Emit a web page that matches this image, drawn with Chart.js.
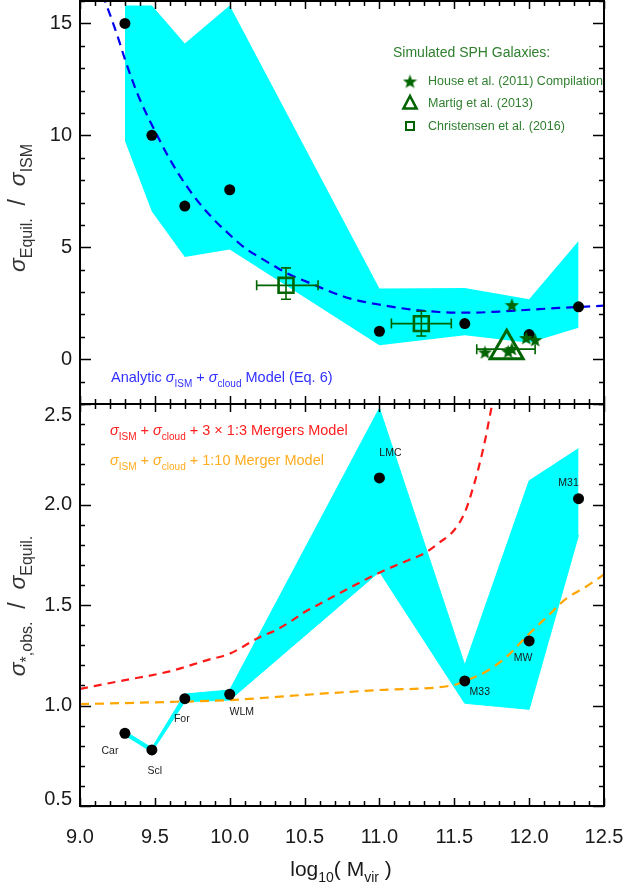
<!DOCTYPE html>
<html><head><meta charset="utf-8">
<script src="https://cdn.jsdelivr.net/npm/chart.js@4/dist/chart.umd.min.js"></script>
<style>
html,body{margin:0;padding:0;background:#fff;}
#wrap{position:relative;width:626px;height:888px;}
canvas{position:absolute;left:0;top:0;}
</style></head><body>
<div id="wrap"><canvas id="c1" width="626" height="888"></canvas><canvas id="c2" width="626" height="888"></canvas></div>
<script>
// ---------------- DATA ----------------
const galaxyNames = ['Car','Scl','For','WLM','LMC','M33','MW','M31'];
const logMvir = [9.30, 9.48, 9.70, 10.00, 11.00, 11.57, 12.00, 12.33];

// top panel: sigma_Equil / sigma_ISM
const equilOverIsm   = [15.0, 10.0, 6.84, 7.57, 1.25, 1.59, 1.10, 2.34];
const equilBandUpper = [15.8, 15.8, 14.1, 15.8, 3.16, 3.18, 2.68, 5.28];
const equilBandLower = [9.75, 6.6, 4.57, 4.9, 0.62, 1.07, 0.74, 1.41];

const analyticX = [9.15, 9.2, 9.25, 9.3, 9.35, 9.4, 9.5, 9.6, 9.7, 9.8, 9.9, 10.0, 10.1, 10.2, 10.3, 10.4, 10.5, 10.6, 10.7, 10.8, 10.9, 11.0, 11.2, 11.4, 11.6, 11.8, 12.0, 12.2, 12.5];
const analyticY = [16.3, 15.4, 14.45, 13.4, 12.45, 11.6, 10.2, 8.93, 7.85, 6.95, 6.2, 5.56, 4.98, 4.55, 4.15, 3.78, 3.5, 3.22, 2.95, 2.72, 2.56, 2.44, 2.23, 2.11, 2.08, 2.13, 2.21, 2.29, 2.39];

const houseX = [11.705, 11.86, 11.885, 11.98, 12.04, 11.885];
const houseY = [0.33, 0.36, 0.48, 0.97, 0.88, 2.44];

const martigX = [11.85];
const martigY = [0.45];
const martigXLo = [11.65];
const martigXHi = [12.04];

const christX = [10.376, 11.28];
const christY = [3.30, 1.59];
const christXLo = [10.18, 11.08];
const christXHi = [10.59, 11.48];
const christYLo = [2.68, 1.04];
const christYHi = [4.08, 2.14];

// bottom panel: sigma_*,obs / sigma_Equil
const obsOverEquil = [0.862, 0.779, 1.034, 1.056, 2.132, 1.122, 1.321, 2.029];
const obsBandUpper = [0.872, 0.789, 1.057, 1.077, 2.479, 1.201, 2.118, 2.278];
const obsBandLower = [0.852, 0.769, 1.019, 1.027, 1.666, 1.011, 0.981, 1.848];

const mergers3X = [9.0, 9.3, 9.6, 9.85, 10.0, 10.2, 10.3, 10.4, 10.5, 10.6, 10.8, 11.0, 11.2, 11.3, 11.4, 11.5, 11.57, 11.63, 11.67, 11.71, 11.74, 11.77];
const mergers3Y = [1.083, 1.126, 1.170, 1.226, 1.258, 1.340, 1.372, 1.415, 1.465, 1.505, 1.585, 1.661, 1.725, 1.757, 1.81, 1.873, 1.96, 2.095, 2.205, 2.335, 2.45, 2.56];

const merger10X = [9.0, 9.5, 10.0, 10.5, 11.0, 11.5, 11.57, 11.71, 11.85, 11.98, 12.12, 12.25, 12.38, 12.5];
const merger10Y = [1.007, 1.016, 1.027, 1.053, 1.077, 1.102, 1.122, 1.168, 1.243, 1.342, 1.442, 1.533, 1.591, 1.652];

// ticks
const xTickValues = [9.0, 9.5, 10.0, 10.5, 11.0, 11.5, 12.0, 12.5];
const topYTickValues = [0, 5, 10, 15];
const botYTickValues = [0.5, 1.0, 1.5, 2.0, 2.5];

// ---------------- STYLE ----------------
const FONT = '"Liberation Sans", Arial, Helvetica, sans-serif';
const GREEN = '#006400';
const CYAN = '#00ffff';
const zip = (xs, ys) => xs.map((x, i) => ({x, y: ys[i]}));

function makeStar(size, color) {
  const c = document.createElement('canvas'); c.width = c.height = size;
  const g = c.getContext('2d'); const R = size / 2, r = R * 0.42;
  g.beginPath();
  for (let i = 0; i < 10; i++) {
    const ang = -Math.PI / 2 + i * Math.PI / 5; const rad = i % 2 ? r : R;
    g.lineTo(R + rad * Math.cos(ang), R + 1 + rad * Math.sin(ang));
  }
  g.closePath(); g.fillStyle = color; g.fill();
  return c;
}
const starBig = makeStar(15, GREEN);
const starLegend = makeStar(15, GREEN);

function rich(ctx, parts, size, x, y, align, color, subRatio, subShift) {
  subRatio = subRatio || 0.68; subShift = subShift || 0.32;
  const fonts = {n: `${size}px ${FONT}`, g: `italic ${size}px ${FONT}`, s: `${Math.round(size * subRatio)}px ${FONT}`};
  const dy = {n: 0, g: 0, s: size * subShift};
  let w = 0;
  for (const [t, k] of parts) { ctx.font = fonts[k]; w += ctx.measureText(t).width; }
  let cx = align === 'center' ? x - w / 2 : x;
  ctx.fillStyle = color; ctx.textBaseline = 'alphabetic'; ctx.textAlign = 'left';
  for (const [t, k] of parts) { ctx.font = fonts[k]; ctx.fillText(t, cx, y + dy[k]); cx += ctx.measureText(t).width; }
}

function stepsOf(min, max, step) {
  const out = []; const i0 = Math.ceil(min / step - 1e-6), i1 = Math.floor(max / step + 1e-6);
  for (let i = i0; i <= i1; i++) out.push(+(i * step).toFixed(6));
  return out;
}
const isMul = (v, s) => Math.abs(v / s - Math.round(v / s)) < 1e-6;

const framePlugin = {
  id: 'frame',
  afterDatasetsDraw(chart, args, o) {
    const {ctx, chartArea: a, scales: {x, y}} = chart;
    ctx.save(); ctx.strokeStyle = '#000'; ctx.lineWidth = 1.5;
    ctx.beginPath();
    for (const v of stepsOf(x.min, x.max, o.xMinor)) {
      const p = Math.round(x.getPixelForValue(v)) + 0.5; const L = isMul(v, o.xMajor) ? o.majorLen : o.minorLen;
      ctx.moveTo(p, a.bottom); ctx.lineTo(p, a.bottom - L);
      ctx.moveTo(p, a.top); ctx.lineTo(p, a.top + L);
    }
    for (const v of stepsOf(y.min, y.max, o.yMinor)) {
      const p = Math.round(y.getPixelForValue(v)) + 0.5; const L = isMul(v, o.yMajor) ? o.majorLenY : o.minorLen;
      ctx.moveTo(a.left, p); ctx.lineTo(a.left + L, p);
      ctx.moveTo(a.right, p); ctx.lineTo(a.right - L, p);
    }
    ctx.stroke();
    ctx.lineWidth = 2; ctx.strokeRect(a.left, a.top, a.right - a.left, a.bottom - a.top);
    ctx.restore();
  }
};

const topAnnot = {
  id: 'topAnnot',
  afterDatasetsDraw(chart) {
    const {ctx, scales: {x, y}} = chart;
    ctx.save();
    // error bars
    ctx.strokeStyle = GREEN; ctx.lineWidth = 1.6; ctx.beginPath();
    const cap = 5;
    christX.forEach((cx, i) => {
      const px = x.getPixelForValue(cx), py = y.getPixelForValue(christY[i]);
      const xl = x.getPixelForValue(christXLo[i]), xh = x.getPixelForValue(christXHi[i]);
      const yl = y.getPixelForValue(christYLo[i]), yh = y.getPixelForValue(christYHi[i]);
      ctx.moveTo(xl, py); ctx.lineTo(xh, py);
      ctx.moveTo(xl, py - cap); ctx.lineTo(xl, py + cap);
      ctx.moveTo(xh, py - cap); ctx.lineTo(xh, py + cap);
      ctx.moveTo(px, yl); ctx.lineTo(px, yh);
      ctx.moveTo(px - cap, yl); ctx.lineTo(px + cap, yl);
      ctx.moveTo(px - cap, yh); ctx.lineTo(px + cap, yh);
    });
    martigX.forEach((mx, i) => {
      const py = y.getPixelForValue(martigY[i]);
      const xl = x.getPixelForValue(martigXLo[i]), xh = x.getPixelForValue(martigXHi[i]);
      ctx.moveTo(xl, py); ctx.lineTo(xh, py);
      ctx.moveTo(xl, py - cap); ctx.lineTo(xl, py + cap);
      ctx.moveTo(xh, py - cap); ctx.lineTo(xh, py + cap);
    });
    ctx.stroke();
    // legend
    ctx.fillStyle = '#2f7f2f';
    ctx.font = `14px ${FONT}`; ctx.textAlign = 'left'; ctx.textBaseline = 'alphabetic';
    ctx.fillText('Simulated SPH Galaxies:', 393, 57);
    ctx.font = `12.5px ${FONT}`;
    ctx.fillText('House et al. (2011) Compilation', 428, 84.5);
    ctx.fillText('Martig et al. (2013)', 428, 107);
    ctx.fillText('Christensen et al. (2016)', 428, 129.5);
    ctx.drawImage(starLegend, 410 - 7.5, 81 - 7.5);
    ctx.strokeStyle = GREEN; ctx.lineWidth = 2.6;
    ctx.beginPath(); ctx.moveTo(410, 96); ctx.lineTo(416.5, 108.5); ctx.lineTo(403.5, 108.5); ctx.closePath(); ctx.stroke();
    ctx.lineWidth = 2; ctx.strokeRect(406, 122, 8, 8);
    // blue model label
    rich(ctx, [['Analytic ', 'n'], ['σ', 'g'], ['ISM', 's'], [' + ', 'n'], ['σ', 'g'], ['cloud', 's'], [' Model (Eq. 6)', 'n']], 14.5, 111, 382, 'left', '#3030ff');
    // y title
    ctx.translate(25, 208); ctx.rotate(-Math.PI / 2);
    rich(ctx, [['σ', 'g'], ['Equil.', 's'], ['  /  ', 'n'], ['σ', 'g'], ['ISM', 's']], 23, 0, 0, 'center', '#333', 0.68, 0.3);
    ctx.restore();
  }
};

const botAnnot = {
  id: 'botAnnot',
  afterDatasetsDraw(chart) {
    const {ctx, chartArea: a, scales: {x, y}} = chart;
    ctx.save();
    // y tick labels (kept inside the panel like the original)
    ctx.font = `20px ${FONT}`; ctx.fillStyle = '#1a1a1a'; ctx.textAlign = 'right'; ctx.textBaseline = 'middle';
    botYTickValues.forEach(v => {
      const p = Math.min(Math.max(y.getPixelForValue(v), a.top + 11), a.bottom - 7);
      ctx.fillText(v.toFixed(1), a.left - 8, p);
    });
    const off = [[-15, 18], [3, 21], [-3, 20], [12, 18], [11, -25], [15, 11], [-6, 17], [-10, -16]];
    ctx.font = `10.5px ${FONT}`; ctx.textAlign = 'center';
    galaxyNames.forEach((n, i) => {
      ctx.fillText(n, x.getPixelForValue(logMvir[i]) + off[i][0], y.getPixelForValue(obsOverEquil[i]) + off[i][1]);
    });
    rich(ctx, [['σ', 'g'], ['ISM', 's'], [' + ', 'n'], ['σ', 'g'], ['cloud', 's'], [' + 3 × 1:3 Mergers Model', 'n']], 14.5, 110, 435, 'left', '#ff2020');
    rich(ctx, [['σ', 'g'], ['ISM', 's'], [' + ', 'n'], ['σ', 'g'], ['cloud', 's'], [' + 1:10 Merger Model', 'n']], 14.5, 110, 465, 'left', '#ffac20');
    // x title
    rich(ctx, [['log', 'n'], ['10', 's'], ['( M', 'n'], ['vir', 's'], [' )', 'n']], 21, 341, 876, 'center', '#1a1a1a', 0.66, 0.3);
    // y title
    ctx.translate(25, 606); ctx.rotate(-Math.PI / 2);
    rich(ctx, [['σ', 'g'], ['*,obs.', 's'], ['  /  ', 'n'], ['σ', 'g'], ['Equil.', 's']], 23, 0, 0, 'center', '#333', 0.68, 0.3);
    ctx.restore();
  }
};

Chart.defaults.font.family = FONT;

const noPad = s => { s.paddingTop = 0; s.paddingBottom = 0; s.paddingLeft = 0; s.paddingRight = 0; };
const baseScales = (yMin, yMax, yTicks, fmt, xHeight, showX, showY) => ({
  x: {type: 'linear', min: 9, max: 12.5,
      afterBuildTicks(s) { s.ticks = xTickValues.map(v => ({value: v})); },
      ticks: {display: showX, font: {size: 20}, color: '#1a1a1a', padding: 19, maxRotation: 0, callback: v => v.toFixed(1)},
      grid: {display: false, drawTicks: false}, border: {display: false},
      afterFit(s) { s.height = xHeight; noPad(s); }},
  y: {type: 'linear', min: yMin, max: yMax,
      afterBuildTicks(s) { s.ticks = yTicks.map(v => ({value: v})); },
      ticks: {display: showY, font: {size: 20}, color: '#1a1a1a', padding: 8, callback: fmt},
      grid: {display: false, drawTicks: false}, border: {display: false},
      afterFit(s) { s.width = 80; noPad(s); }}
});

const commonOpts = {responsive: false, animation: false, devicePixelRatio: 1,
  plugins: {legend: {display: false}, tooltip: {enabled: false}}};

new Chart(document.getElementById('c1'), {
  type: 'line',
  data: {datasets: [
    {data: zip(houseX, houseY), showLine: false, pointStyle: starBig, pointRadius: 7, order: 0},
    {data: zip(martigX, martigY), showLine: false, pointStyle: 'triangle', pointRadius: 19, pointBorderWidth: 3, pointBorderColor: GREEN, pointBackgroundColor: 'rgba(0,0,0,0)', order: 1},
    {data: zip(christX, christY), showLine: false, pointStyle: 'rect', pointRadius: 10.5, pointBorderWidth: 2.6, pointBorderColor: GREEN, pointBackgroundColor: 'rgba(0,0,0,0)', order: 2},
    {data: zip(logMvir, equilOverIsm), showLine: false, pointStyle: 'circle', pointRadius: 5.5, pointBorderWidth: 0, pointBackgroundColor: '#000', order: 3},
    {data: zip(analyticX, analyticY), borderColor: '#0000ee', borderWidth: 2.2, borderDash: [9, 6], pointRadius: 0, cubicInterpolationMode: 'monotone', fill: false, order: 4},
    {data: zip(logMvir, equilBandUpper), borderColor: CYAN, borderWidth: 0, pointRadius: 0, tension: 0, fill: '+1', backgroundColor: CYAN, order: 6},
    {data: zip(logMvir, equilBandLower), borderColor: CYAN, borderWidth: 0, pointRadius: 0, tension: 0, fill: false, order: 7}
  ]},
  options: Object.assign({}, commonOpts, {
    layout: {autoPadding: false, padding: {top: 1, right: 22, bottom: 484, left: 0}},
    scales: baseScales(-2, 16, topYTickValues, v => String(v), 0, false, true),
    plugins: Object.assign({}, commonOpts.plugins, {frame: {xMinor: 0.1, xMajor: 0.5, yMinor: 1, yMajor: 5, majorLen: 8, majorLenY: 11, minorLen: 5}})
  }),
  plugins: [framePlugin, topAnnot]
});

new Chart(document.getElementById('c2'), {
  type: 'line',
  data: {datasets: [
    {data: zip(logMvir, obsOverEquil), showLine: false, pointStyle: 'circle', pointRadius: 5.5, pointBorderWidth: 0, pointBackgroundColor: '#000', order: 0},
    {data: zip(mergers3X, mergers3Y), borderColor: '#ff1a1a', borderWidth: 2.2, borderDash: [8, 6], pointRadius: 0, cubicInterpolationMode: 'monotone', fill: false, order: 2},
    {data: zip(merger10X, merger10Y), borderColor: '#ffa500', borderWidth: 2.2, borderDash: [9, 6], pointRadius: 0, cubicInterpolationMode: 'monotone', fill: false, order: 3},
    {data: zip(logMvir, obsBandUpper), borderColor: CYAN, borderWidth: 1, pointRadius: 0, tension: 0, fill: '+1', backgroundColor: CYAN, order: 5},
    {data: zip(logMvir, obsBandLower), borderColor: CYAN, borderWidth: 1, pointRadius: 0, tension: 0, fill: false, order: 6}
  ]},
  options: Object.assign({}, commonOpts, {
    layout: {autoPadding: false, padding: {top: 404, right: 22, bottom: 0, left: 0}},
    scales: baseScales(0.5, 2.5, botYTickValues, v => v.toFixed(1), 82, true, false),
    plugins: Object.assign({}, commonOpts.plugins, {frame: {xMinor: 0.1, xMajor: 0.5, yMinor: 0.1, yMajor: 0.5, majorLen: 8, majorLenY: 11, minorLen: 5}})
  }),
  plugins: [framePlugin, botAnnot]
});
</script>
</body></html>
